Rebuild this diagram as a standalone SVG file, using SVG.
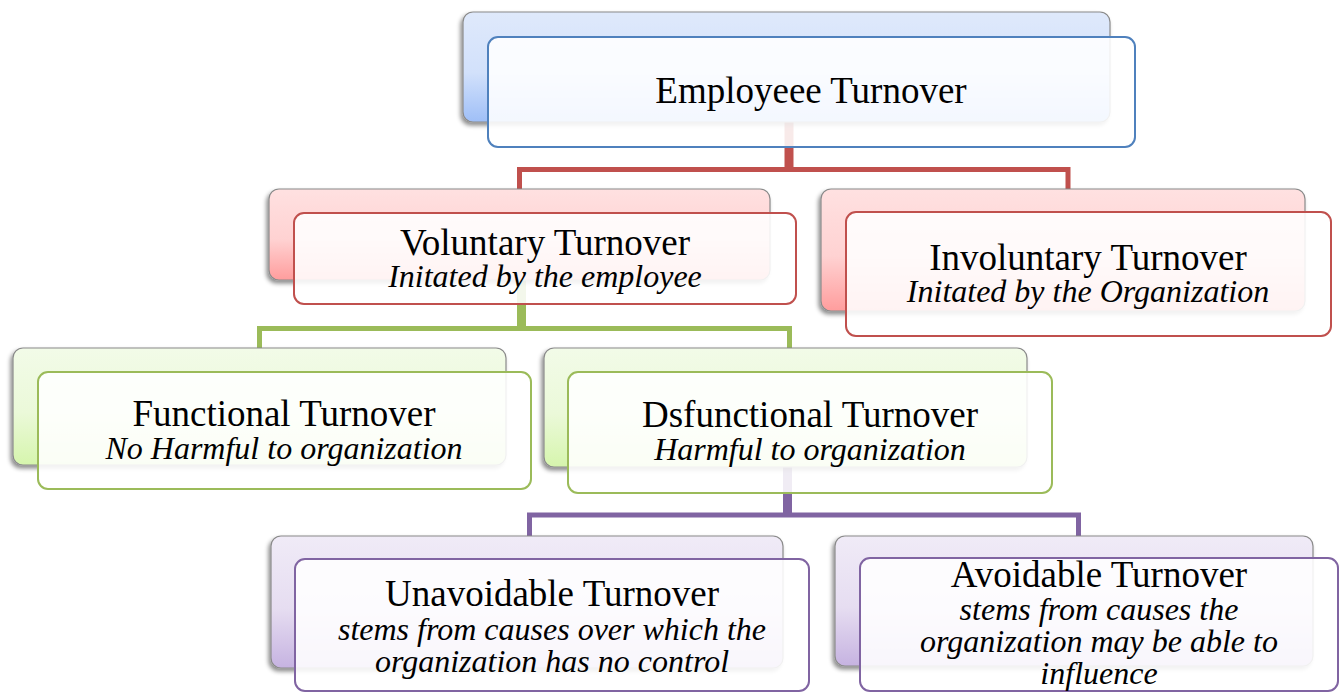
<svg xmlns="http://www.w3.org/2000/svg" width="1343" height="692" viewBox="0 0 1343 692">
  <defs>
    <linearGradient id="gBlue" x1="0" y1="0" x2="0" y2="1">
      <stop offset="0" stop-color="#dfe9fb"/>
      <stop offset="0.55" stop-color="#d2e1fb"/>
      <stop offset="1" stop-color="#9fbff7"/>
    </linearGradient>
    <linearGradient id="gRed" x1="0" y1="0" x2="0" y2="1">
      <stop offset="0" stop-color="#ffe1e1"/>
      <stop offset="0.55" stop-color="#ffd2d2"/>
      <stop offset="1" stop-color="#ff9d9d"/>
    </linearGradient>
    <linearGradient id="gGreen" x1="0" y1="0" x2="0" y2="1">
      <stop offset="0" stop-color="#f2fbe8"/>
      <stop offset="0.55" stop-color="#ebf9d9"/>
      <stop offset="1" stop-color="#d6f5ad"/>
    </linearGradient>
    <linearGradient id="gPurple" x1="0" y1="0" x2="0" y2="1">
      <stop offset="0" stop-color="#f0ebf7"/>
      <stop offset="0.55" stop-color="#e6ddf1"/>
      <stop offset="1" stop-color="#c6b3e1"/>
    </linearGradient>
    <filter id="shadow" x="-10%" y="-10%" width="120%" height="130%">
      <feDropShadow dx="-2" dy="3" stdDeviation="2" flood-color="#000" flood-opacity="0.45"/>
    </filter>
  </defs>
  <style>
    .back { stroke: #8a8a8a; stroke-width: 1.2; filter: url(#shadow); }
    .front { fill: #ffffff; fill-opacity: 0.88; stroke-width: 2; }
    .title { font-family: "Liberation Serif", "Times New Roman", serif; font-size: 37px; fill: #000; text-anchor: middle; }
    .sub { font-family: "Liberation Serif", "Times New Roman", serif; font-size: 32px; font-style: italic; fill: #000; text-anchor: middle; }
    .conn { fill: none; stroke-width: 5; stroke-linejoin: miter; }
    .stem { fill: none; stroke-width: 9; }
  </style>

  <!-- connectors -->
  <g id="connectors">
    <line class="stem" x1="789" y1="122" x2="789" y2="170" stroke="#C0504D"/>
    <polyline class="conn" points="519.5,189 519.5,169.5 1068,169.5 1068,189" stroke="#C0504D"/>
    <line class="stem" x1="521.5" y1="280" x2="521.5" y2="330" stroke="#9BBB59"/>
    <polyline class="conn" points="259.5,348 259.5,328.5 789.5,328.5 789.5,348" stroke="#9BBB59"/>
    <line class="stem" x1="787.5" y1="466" x2="787.5" y2="516" stroke="#8064A2"/>
    <polyline class="conn" points="529.5,537 529.5,515 1078.5,515 1078.5,537" stroke="#8064A2"/>
  </g>

  <!-- root -->
  <g id="node-employee-turnover">
    <rect class="back" x="463" y="12" width="647" height="110" rx="10" fill="url(#gBlue)"/>
    <rect class="front" x="488" y="37" width="647" height="110" rx="10" stroke="#4F81BD"/>
    <text class="title" x="811" y="103">Employeee Turnover</text>
  </g>

  <!-- second level -->
  <g id="node-voluntary">
    <rect class="back" x="269" y="189" width="501" height="91" rx="10" fill="url(#gRed)"/>
    <rect class="front" x="294" y="213" width="502" height="91" rx="10" stroke="#C0504D"/>
    <text class="title" x="545" y="255">Voluntary Turnover</text>
    <text class="sub" x="545" y="287">Initated by the employee</text>
  </g>

  <g id="node-involuntary">
    <rect class="back" x="821" y="189" width="484" height="122" rx="10" fill="url(#gRed)"/>
    <rect class="front" x="846" y="212" width="485" height="124" rx="10" stroke="#C0504D"/>
    <text class="title" x="1088" y="270">Involuntary Turnover</text>
    <text class="sub" x="1088" y="302">Initated by the Organization</text>
  </g>

  <!-- third level -->
  <g id="node-functional">
    <rect class="back" x="13" y="348" width="493" height="117" rx="10" fill="url(#gGreen)"/>
    <rect class="front" x="38" y="372" width="493" height="117" rx="10" stroke="#9BBB59"/>
    <text class="title" x="284" y="426">Functional Turnover</text>
    <text class="sub" x="284" y="459">No Harmful to organization</text>
  </g>

  <g id="node-dysfunctional">
    <rect class="back" x="544" y="348" width="483" height="119" rx="10" fill="url(#gGreen)"/>
    <rect class="front" x="568" y="372" width="484" height="121" rx="10" stroke="#9BBB59"/>
    <text class="title" x="810" y="427">Dsfunctional Turnover</text>
    <text class="sub" x="810" y="460">Harmful to organization</text>
  </g>

  <!-- fourth level -->
  <g id="node-unavoidable">
    <rect class="back" x="271" y="536" width="512" height="132" rx="10" fill="url(#gPurple)"/>
    <rect class="front" x="295" y="559" width="514" height="132" rx="10" stroke="#8064A2"/>
    <text class="title" x="552" y="606">Unavoidable Turnover</text>
    <text class="sub" x="552" y="640">stems from causes over which the</text>
    <text class="sub" x="552" y="672">organization has no control</text>
  </g>

  <g id="node-avoidable">
    <rect class="back" x="835" y="536" width="478" height="130" rx="10" fill="url(#gPurple)"/>
    <rect class="front" x="860" y="558" width="478" height="133" rx="10" stroke="#8064A2"/>
    <text class="title" x="1099" y="587">Avoidable Turnover</text>
    <text class="sub" x="1099" y="620">stems from causes the</text>
    <text class="sub" x="1099" y="652">organization may be able to</text>
    <text class="sub" x="1099" y="684">influence</text>
  </g>
</svg>
